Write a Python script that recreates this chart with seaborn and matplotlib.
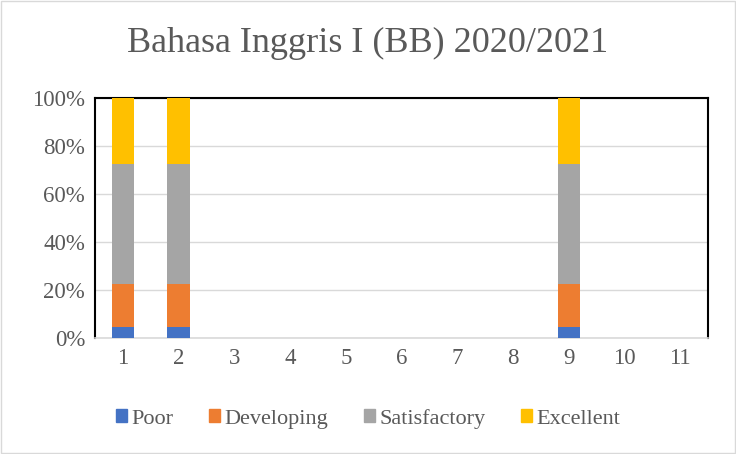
import matplotlib
matplotlib.use("Agg")
import matplotlib.pyplot as plt
import matplotlib.patches as mpatches
import numpy as np
import pandas as pd
import seaborn as sns

categories = [str(i) for i in range(1, 12)]
poor = [4.5, 4.5, 0, 0, 0, 0, 0, 0, 4.5, 0, 0]
developing = [18.2, 18.2, 0, 0, 0, 0, 0, 0, 18.2, 0, 0]
satisfactory = [50.0, 50.0, 0, 0, 0, 0, 0, 0, 50.0, 0, 0]
excellent = [27.3, 27.3, 0, 0, 0, 0, 0, 0, 27.3, 0, 0]

series = ["Poor", "Developing", "Satisfactory", "Excellent"]
colors = ["#4472C4", "#ED7D31", "#A5A5A5", "#FFC000"]

df = pd.DataFrame({"cat": categories, "Poor": poor, "Developing": developing,
                   "Satisfactory": satisfactory, "Excellent": excellent})

sns.set_style("white")
FONT = ["Liberation Serif", "DejaVu Serif"]
plt.rcParams["font.family"] = FONT

fig = plt.figure(figsize=(7.36, 4.54), dpi=100)
ax = fig.add_axes([0.129, 0.255, 0.833, 0.529])

# stacked: draw cumulative totals from top down
cum = df[series].cumsum(axis=1)
for name, col in reversed(list(zip(series, colors))):
    sns.barplot(x=df["cat"], y=cum[name].replace(0, np.nan), color=col, width=0.4, ax=ax,
                saturation=1, order=categories, zorder=3, linewidth=0)

ax.set_ylim(0, 100)
ax.set_yticks(np.arange(0, 101, 20))
ax.set_yticklabels([f"{v}%" for v in range(0, 101, 20)])
ax.yaxis.grid(True, color="#D9D9D9", lw=1, zorder=0)
ax.set_axisbelow(True)
ax.set_xlabel("")
ax.set_ylabel("")
ax.tick_params(axis="both", labelsize=16.5, colors="#595959", length=0, pad=7)
for lab in ax.get_xticklabels() + ax.get_yticklabels():
    lab.set_family(FONT)
for s in ["top", "left", "right"]:
    ax.spines[s].set_color("black")
    ax.spines[s].set_linewidth(1.5)
ax.spines["bottom"].set_color("#D9D9D9")
ax.spines["bottom"].set_linewidth(1.2)

fig.suptitle("Bahasa Inggris I (BB) 2020/2021", y=0.94, fontsize=26, color="#595959",
             family=FONT)

handles = [mpatches.Patch(color=c, label=n) for n, c in zip(series, colors)]
leg = fig.legend(handles=handles, loc="center", bbox_to_anchor=(0.5, 0.078), ncol=4,
                 frameon=False, prop={"family": "Liberation Serif", "size": 16},
                 handlelength=0.5, handleheight=0.5, handletextpad=0.2, columnspacing=1.6)
for t in leg.get_texts():
    t.set_color("#595959")
    t.set_fontfamily("Liberation Serif")

fig.add_artist(mpatches.Rectangle((0.001, 0.002), 0.997, 0.996, transform=fig.transFigure,
                                  fill=False, edgecolor="#D9D9D9", lw=1))

fig.savefig("out.png", dpi=100)
